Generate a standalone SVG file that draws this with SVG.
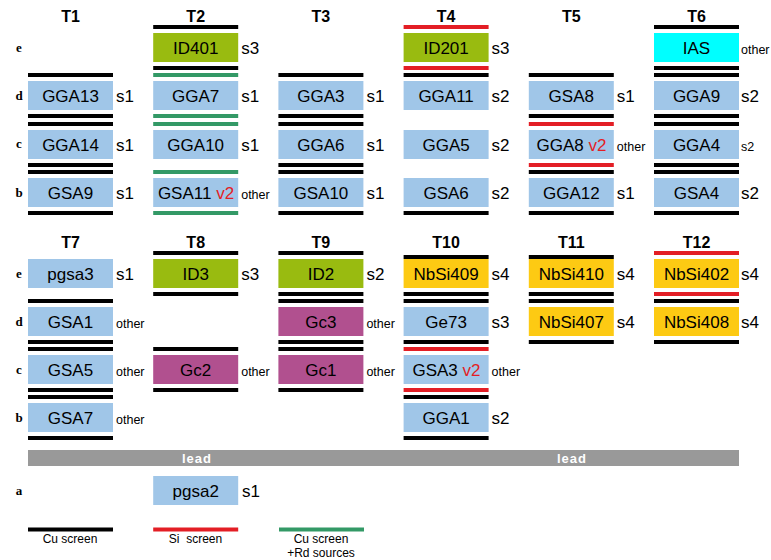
<svg xmlns="http://www.w3.org/2000/svg" width="771" height="560" viewBox="0 0 771 560">
<style>
.bl{fill:#a0c6e8}.gr{fill:#99bb10}.cy{fill:#00ffff}.mg{fill:#b1508f}.ye{fill:#fdca13}
.cu{fill:#000}.si{fill:#e31e25}.rd{fill:#339966}
text{font-family:"Liberation Sans",Arial,sans-serif;fill:#000}
.bt{font-size:17px;text-anchor:middle}
.lb{font-size:17px}
.sm{font-size:12.5px}
.hd{font-size:16px;font-weight:bold;text-anchor:middle}
.rw{font-family:"Liberation Serif","Times New Roman",serif;font-size:13px;font-weight:bold;text-anchor:middle}
.v2{fill:#e31e25}
.lg{font-size:12px;text-anchor:middle}
.ld{font-size:13px;font-weight:bold;fill:#fff;text-anchor:middle;letter-spacing:1px}
</style>
<rect width="771" height="560" fill="#fff"/>
<g id="headers">
<text class="hd" x="70.5" y="21.5">T1</text><text class="hd" x="195.7" y="21.5">T2</text><text class="hd" x="320.9" y="21.5">T3</text><text class="hd" x="446.1" y="21.5">T4</text><text class="hd" x="571.3" y="21.5">T5</text><text class="hd" x="696.5" y="21.5">T6</text>
<text class="hd" x="70.5" y="248">T7</text><text class="hd" x="195.7" y="248">T8</text><text class="hd" x="320.9" y="248">T9</text><text class="hd" x="446.1" y="248">T10</text><text class="hd" x="571.3" y="248">T11</text><text class="hd" x="696.5" y="248">T12</text>
</g>
<g id="rowlabels">
<text class="rw" x="19" y="52">e</text><text class="rw" x="19" y="100">d</text><text class="rw" x="19" y="148">c</text><text class="rw" x="19" y="197">b</text>
<text class="rw" x="19" y="278">e</text><text class="rw" x="19" y="326">d</text><text class="rw" x="19" y="374">c</text><text class="rw" x="19" y="422">b</text>
<text class="rw" x="19" y="495">a</text>
</g>
<g id="connectors">
<rect class="cu" x="28" y="73" width="85" height="4"/><rect class="cu" x="28" y="114" width="85" height="4"/>
<rect class="cu" x="28" y="122" width="85" height="4"/><rect class="cu" x="28" y="163" width="85" height="4"/>
<rect class="cu" x="28" y="170" width="85" height="4"/><rect class="cu" x="28" y="211" width="85" height="4"/>
<rect class="cu" x="153.2" y="25" width="85" height="4"/><rect class="cu" x="153.2" y="66" width="85" height="4"/>
<rect class="rd" x="153.2" y="73" width="85" height="4"/><rect class="rd" x="153.2" y="114" width="85" height="4"/>
<rect class="rd" x="153.2" y="122" width="85" height="4"/>
<rect class="rd" x="153.2" y="170" width="85" height="4"/><rect class="rd" x="153.2" y="211" width="85" height="4"/>
<rect class="cu" x="278.4" y="73" width="85" height="4"/><rect class="cu" x="278.4" y="114" width="85" height="4"/>
<rect class="cu" x="278.4" y="122" width="85" height="4"/><rect class="cu" x="278.4" y="163" width="85" height="4"/>
<rect class="cu" x="278.4" y="170" width="85" height="4"/><rect class="cu" x="278.4" y="211" width="85" height="4"/>
<rect class="si" x="403.6" y="25" width="85" height="4"/><rect class="si" x="403.6" y="66" width="85" height="4"/>
<rect class="cu" x="403.6" y="73" width="85" height="4"/>
<rect class="cu" x="403.6" y="211" width="85" height="4"/>
<rect class="cu" x="528.8" y="73" width="85" height="4"/><rect class="cu" x="528.8" y="114" width="85" height="4"/>
<rect class="si" x="528.8" y="122" width="85" height="4"/><rect class="si" x="528.8" y="163" width="85" height="4"/>
<rect class="cu" x="528.8" y="170" width="85" height="4"/><rect class="cu" x="528.8" y="211" width="85" height="4"/>
<rect class="cu" x="654" y="25" width="85" height="4"/><rect class="cu" x="654" y="66" width="85" height="4"/>
<rect class="cu" x="654" y="73" width="85" height="4"/><rect class="cu" x="654" y="114" width="85" height="4"/>
<rect class="cu" x="654" y="122" width="85" height="4"/><rect class="cu" x="654" y="163" width="85" height="4"/>
<rect class="cu" x="654" y="170" width="85" height="4"/><rect class="cu" x="654" y="211" width="85" height="4"/>
<rect class="cu" x="28" y="299" width="85" height="4"/><rect class="cu" x="28" y="340" width="85" height="4"/>
<rect class="cu" x="28" y="347" width="85" height="4"/><rect class="cu" x="28" y="388" width="85" height="4"/>
<rect class="cu" x="28" y="395" width="85" height="4"/><rect class="cu" x="28" y="436" width="85" height="4"/>
<rect class="cu" x="153.2" y="251" width="85" height="4"/><rect class="cu" x="153.2" y="292" width="85" height="4"/>
<rect class="cu" x="153.2" y="347" width="85" height="4"/><rect class="cu" x="153.2" y="388" width="85" height="4"/>
<rect class="cu" x="278.4" y="251" width="85" height="4"/><rect class="cu" x="278.4" y="292" width="85" height="4"/>
<rect class="cu" x="278.4" y="299" width="85" height="4"/><rect class="cu" x="278.4" y="340" width="85" height="4"/>
<rect class="cu" x="278.4" y="347" width="85" height="4"/><rect class="cu" x="278.4" y="388" width="85" height="4"/>
<rect class="cu" x="403.6" y="255" width="85" height="4"/><rect class="cu" x="403.6" y="292" width="85" height="4"/>
<rect class="cu" x="403.6" y="299" width="85" height="4"/><rect class="cu" x="403.6" y="340" width="85" height="4"/>
<rect class="si" x="403.6" y="347" width="85" height="4"/><rect class="si" x="403.6" y="388" width="85" height="4"/>
<rect class="cu" x="403.6" y="395" width="85" height="4"/><rect class="cu" x="403.6" y="436" width="85" height="4"/>
<rect class="cu" x="528.8" y="255" width="85" height="4"/><rect class="cu" x="528.8" y="292" width="85" height="4"/>
<rect class="cu" x="528.8" y="299" width="85" height="4"/><rect class="cu" x="528.8" y="340" width="85" height="4"/>
<rect class="si" x="654" y="251" width="85" height="4"/><rect class="si" x="654" y="292" width="85" height="4"/>
<rect class="cu" x="654" y="299" width="85" height="4"/><rect class="cu" x="654" y="340" width="85" height="4"/>
</g>
<g id="lead">
<rect x="28" y="450" width="711" height="16" fill="#999999"/>
<text class="ld" x="197" y="463">lead</text><text class="ld" x="572" y="463">lead</text>
</g>
<g id="T1">
<rect class="bl" x="28" y="81" width="85" height="29"/><text class="bt" x="70.5" y="101.5">GGA13</text><text class="lb" x="116" y="101.5">s1</text>
<rect class="bl" x="28" y="130" width="85" height="29"/><text class="bt" x="70.5" y="150.5">GGA14</text><text class="lb" x="116" y="150.5">s1</text>
<rect class="bl" x="28" y="178" width="85" height="29"/><text class="bt" x="70.5" y="198.5">GSA9</text><text class="lb" x="116" y="198.5">s1</text>
</g>
<g id="T2">
<rect class="gr" x="153.2" y="33" width="85" height="29"/><text class="bt" x="195.7" y="53.5">ID401</text><text class="lb" x="241.2" y="53.5">s3</text>
<rect class="bl" x="153.2" y="81" width="85" height="29"/><text class="bt" x="195.7" y="101.5">GGA7</text><text class="lb" x="241.2" y="101.5">s1</text>
<rect class="bl" x="153.2" y="130" width="85" height="29"/><text class="bt" x="195.7" y="150.5">GGA10</text><text class="lb" x="241.2" y="150.5">s1</text>
<rect class="bl" x="153.2" y="178" width="85" height="29"/><text class="bt" x="196" y="198.5">GSA11 <tspan class="v2">v2</tspan></text><text class="sm" x="241.2" y="198.5">other</text>
</g>
<g id="T3">
<rect class="bl" x="278.4" y="81" width="85" height="29"/><text class="bt" x="320.9" y="101.5">GGA3</text><text class="lb" x="366.4" y="101.5">s1</text>
<rect class="bl" x="278.4" y="130" width="85" height="29"/><text class="bt" x="320.9" y="150.5">GGA6</text><text class="lb" x="366.4" y="150.5">s1</text>
<rect class="bl" x="278.4" y="178" width="85" height="29"/><text class="bt" x="320.9" y="198.5">GSA10</text><text class="lb" x="366.4" y="198.5">s1</text>
</g>
<g id="T4">
<rect class="gr" x="403.6" y="33" width="85" height="29"/><text class="bt" x="446.1" y="53.5">ID201</text><text class="lb" x="491.6" y="53.5">s3</text>
<rect class="bl" x="403.6" y="81" width="85" height="29"/><text class="bt" x="446.1" y="101.5">GGA11</text><text class="lb" x="491.6" y="101.5">s2</text>
<rect class="bl" x="403.6" y="130" width="85" height="29"/><text class="bt" x="446.1" y="150.5">GGA5</text><text class="lb" x="491.6" y="150.5">s2</text>
<rect class="bl" x="403.6" y="178" width="85" height="29"/><text class="bt" x="446.1" y="198.5">GSA6</text><text class="lb" x="491.6" y="198.5">s2</text>
</g>
<g id="T5">
<rect class="bl" x="528.8" y="81" width="85" height="29"/><text class="bt" x="571.3" y="101.5">GSA8</text><text class="lb" x="616.8" y="101.5">s1</text>
<rect class="bl" x="528.8" y="130" width="85" height="29"/><text class="bt" x="571.5" y="150.5">GGA8 <tspan class="v2">v2</tspan></text><text class="sm" x="616.8" y="150.5">other</text>
<rect class="bl" x="528.8" y="178" width="85" height="29"/><text class="bt" x="571.3" y="198.5">GGA12</text><text class="lb" x="616.8" y="198.5">s1</text>
</g>
<g id="T6">
<rect class="cy" x="654" y="33" width="85" height="29"/><text class="bt" x="696.5" y="53.5">IAS</text><text class="sm" x="741" y="53.5">other</text>
<rect class="bl" x="654" y="81" width="85" height="29"/><text class="bt" x="696.5" y="101.5">GGA9</text><text class="lb" x="741" y="101.5">s2</text>
<rect class="bl" x="654" y="130" width="85" height="29"/><text class="bt" x="696.5" y="150.5">GGA4</text><text class="sm" x="741" y="150.5">s2</text>
<rect class="bl" x="654" y="178" width="85" height="29"/><text class="bt" x="696.5" y="198.5">GSA4</text><text class="lb" x="741" y="198.5">s2</text>
</g>
<g id="T7">
<rect class="bl" x="28" y="259" width="85" height="29"/><text class="bt" x="70.5" y="279.5">pgsa3</text><text class="lb" x="116" y="279.5">s1</text>
<rect class="bl" x="28" y="307" width="85" height="29"/><text class="bt" x="70.5" y="327.5">GSA1</text><text class="sm" x="116" y="328">other</text>
<rect class="bl" x="28" y="355" width="85" height="29"/><text class="bt" x="70.5" y="375.5">GSA5</text><text class="sm" x="116" y="376">other</text>
<rect class="bl" x="28" y="403" width="85" height="29"/><text class="bt" x="70.5" y="423.5">GSA7</text><text class="sm" x="116" y="424">other</text>
</g>
<g id="T8">
<rect class="gr" x="153.2" y="259" width="85" height="29"/><text class="bt" x="195.7" y="279.5">ID3</text><text class="lb" x="241.2" y="279.5">s3</text>
<rect class="mg" x="153.2" y="355" width="85" height="29"/><text class="bt" x="195.7" y="375.5">Gc2</text><text class="sm" x="241.2" y="376">other</text>
</g>
<g id="T9">
<rect class="gr" x="278.4" y="259" width="85" height="29"/><text class="bt" x="320.9" y="279.5">ID2</text><text class="lb" x="366.4" y="279.5">s2</text>
<rect class="mg" x="278.4" y="307" width="85" height="29"/><text class="bt" x="320.9" y="327.5">Gc3</text><text class="sm" x="366.4" y="328">other</text>
<rect class="mg" x="278.4" y="355" width="85" height="29"/><text class="bt" x="320.9" y="375.5">Gc1</text><text class="sm" x="366.4" y="376">other</text>
</g>
<g id="T10">
<rect class="ye" x="403.6" y="259" width="85" height="29"/><text class="bt" x="446.1" y="279.5">NbSi409</text><text class="lb" x="491.6" y="279.5">s4</text>
<rect class="bl" x="403.6" y="307" width="85" height="29"/><text class="bt" x="446.1" y="327.5">Ge73</text><text class="lb" x="491.6" y="327.5">s3</text>
<rect class="bl" x="403.6" y="355" width="85" height="29"/><text class="bt" x="446.5" y="375.5">GSA3 <tspan class="v2">v2</tspan></text><text class="sm" x="491.6" y="376">other</text>
<rect class="bl" x="403.6" y="403" width="85" height="29"/><text class="bt" x="446.1" y="423.5">GGA1</text><text class="lb" x="491.6" y="423.5">s2</text>
</g>
<g id="T11">
<rect class="ye" x="528.8" y="259" width="85" height="29"/><text class="bt" x="571.3" y="279.5">NbSi410</text><text class="lb" x="616.8" y="279.5">s4</text>
<rect class="ye" x="528.8" y="307" width="85" height="29"/><text class="bt" x="571.3" y="327.5">NbSi407</text><text class="lb" x="616.8" y="327.5">s4</text>
</g>
<g id="T12">
<rect class="ye" x="654" y="259" width="85" height="29"/><text class="bt" x="696.5" y="279.5">NbSi402</text><text class="lb" x="741" y="279.5">s4</text>
<rect class="ye" x="654" y="307" width="85" height="29"/><text class="bt" x="696.5" y="327.5">NbSi408</text><text class="lb" x="741" y="327.5">s4</text>
</g>
<g id="pgsa2">
<rect class="bl" x="153.2" y="476" width="85" height="29"/><text class="bt" x="195.7" y="496.5">pgsa2</text><text class="lb" x="242" y="496.5">s1</text>
</g>
<g id="legend">
<rect class="cu" x="28" y="527.5" width="85" height="4"/><text class="lg" x="70" y="543">Cu screen</text>
<rect class="si" x="153.2" y="527.5" width="85" height="4"/><text class="lg" x="195.5" y="543" xml:space="preserve">Si  screen</text>
<rect class="rd" x="279" y="527.5" width="85" height="4"/><text class="lg" x="321" y="543">Cu screen</text><text class="lg" x="321" y="557">+Rd sources</text>
</g>
</svg>
